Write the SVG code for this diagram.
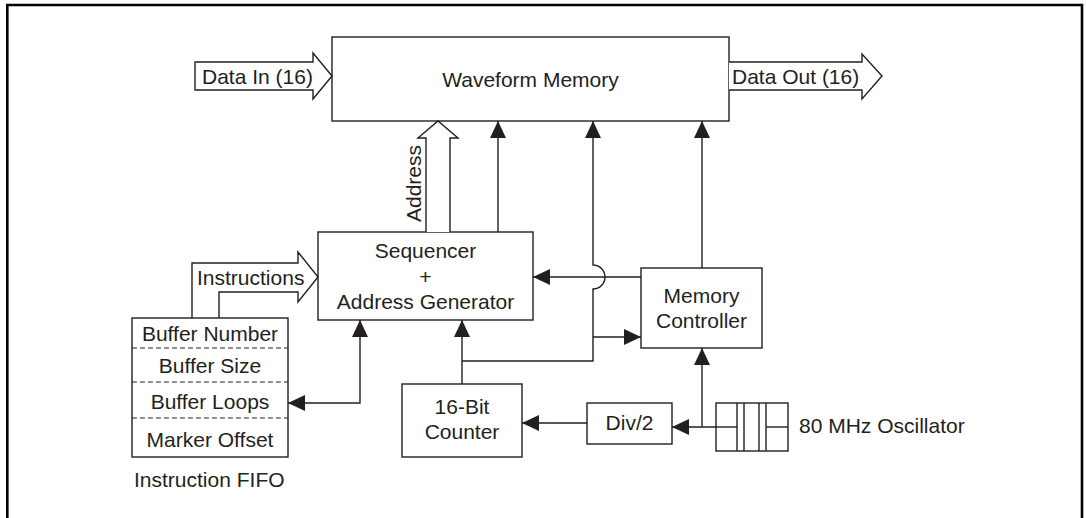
<svg xmlns="http://www.w3.org/2000/svg" width="1086" height="518" viewBox="0 0 1086 518">
<style>
.box{fill:#fff;stroke:#231f20;stroke-width:1.4}
.ln{fill:none;stroke:#231f20;stroke-width:1.4}
.hollow{fill:#fff;stroke:#231f20;stroke-width:1.4;stroke-linejoin:miter}
.dash{stroke:#231f20;stroke-width:1.2;stroke-dasharray:5 3}
text{font-family:"Liberation Sans",Arial,sans-serif;font-size:21px;fill:#231f20}
.c{text-anchor:middle}
</style>
<defs>
<marker id="ah" markerUnits="userSpaceOnUse" markerWidth="18" markerHeight="16" viewBox="0 0 17 16" refX="17" refY="8" orient="auto-start-reverse">
<path d="M0,0 L17,8 L0,16 z" fill="#231f20"/>
</marker>
</defs>
<rect width="1086" height="518" fill="#fff"/>
<path d="M7.3,518 V5 H1082 V518" fill="none" stroke="#000" stroke-width="2.6"/>

<g id="waveform-memory">
<rect class="box" x="332" y="37" width="397" height="84"/>
<text class="c" x="530.5" y="87">Waveform Memory</text>
</g>

<g id="data-in">
<path class="hollow" d="M195,62 H313 V53 L332,76 L313,99 V90 H195 Z"/>
<text x="202" y="84">Data In (16)</text>
</g>

<g id="data-out">
<path class="hollow" d="M729,62 H862 V54 L882,76 L862,99 V90 H729"/>
<text x="732" y="84">Data Out (16)</text>
</g>

<g id="sequencer">
<rect class="box" x="318" y="232" width="215" height="88"/>
<text class="c" x="425.5" y="258">Sequencer</text>
<text class="c" x="425.5" y="284">+</text>
<text class="c" x="425.5" y="309">Address Generator</text>
</g>

<g id="address-bus">
<path class="hollow" d="M426,232 V138 H418 L438,121 L458,138 H450 V232"/>
<text transform="translate(421,183.5) rotate(-90)" class="c">Address</text>
</g>

<g id="instructions-bus">
<path class="hollow" d="M192,318 V263 H298 V252 L318,277 L298,302 V292 H219 V318"/>
<text x="197" y="285">Instructions</text>
</g>

<g id="instruction-fifo">
<rect class="box" x="132" y="318" width="156" height="139"/>
<line class="dash" x1="132" y1="348" x2="288" y2="348"/>
<line class="dash" x1="132" y1="382" x2="288" y2="382"/>
<line class="dash" x1="132" y1="418" x2="288" y2="418"/>
<text class="c" x="210" y="341">Buffer Number</text>
<text class="c" x="210" y="373">Buffer Size</text>
<text class="c" x="210" y="409">Buffer Loops</text>
<text class="c" x="210" y="447">Marker Offset</text>
<text x="134" y="487">Instruction FIFO</text>
</g>

<g id="memory-controller">
<rect class="box" x="641" y="268" width="121" height="80"/>
<text class="c" x="701.5" y="303">Memory</text>
<text class="c" x="701.5" y="328">Controller</text>
</g>

<g id="counter">
<rect class="box" x="402" y="384" width="120" height="73"/>
<text class="c" x="462" y="414">16-Bit</text>
<text class="c" x="462" y="439">Counter</text>
</g>

<g id="div2">
<rect class="box" x="587" y="403" width="85" height="41"/>
<text class="c" x="629.5" y="430">Div/2</text>
</g>

<g id="oscillator">
<rect class="box" x="716" y="403" width="72" height="48"/>
<line class="ln" x1="737" y1="403" x2="737" y2="451"/>
<line class="ln" x1="744" y1="403" x2="744" y2="451"/>
<line class="ln" x1="759" y1="403" x2="759" y2="451"/>
<line class="ln" x1="766" y1="403" x2="766" y2="451"/>
<line class="ln" x1="716" y1="427" x2="737" y2="427"/>
<line class="ln" x1="766" y1="427" x2="788" y2="427"/>
<text x="799" y="433">80 MHz Oscillator</text>
</g>

<g id="connectors">
<path class="ln" d="M498,232 V121" marker-end="url(#ah)"/>
<path class="ln" d="M462,384 V320" marker-end="url(#ah)"/>
<path class="ln" d="M462,361 H593 V289 A12,12 0 0 0 593,265 V121" marker-end="url(#ah)"/>
<path class="ln" d="M593,337 H641" marker-end="url(#ah)"/>
<path class="ln" d="M641,277 H533" marker-end="url(#ah)"/>
<path class="ln" d="M702,268 V121" marker-end="url(#ah)"/>
<path class="ln" d="M288,403 H360 V320" marker-start="url(#ah)" marker-end="url(#ah)"/>
<path class="ln" d="M587,423 H522" marker-end="url(#ah)"/>
<path class="ln" d="M716,427 H672" marker-end="url(#ah)"/>
<path class="ln" d="M702,427 V348" marker-end="url(#ah)"/>
</g>
</svg>
